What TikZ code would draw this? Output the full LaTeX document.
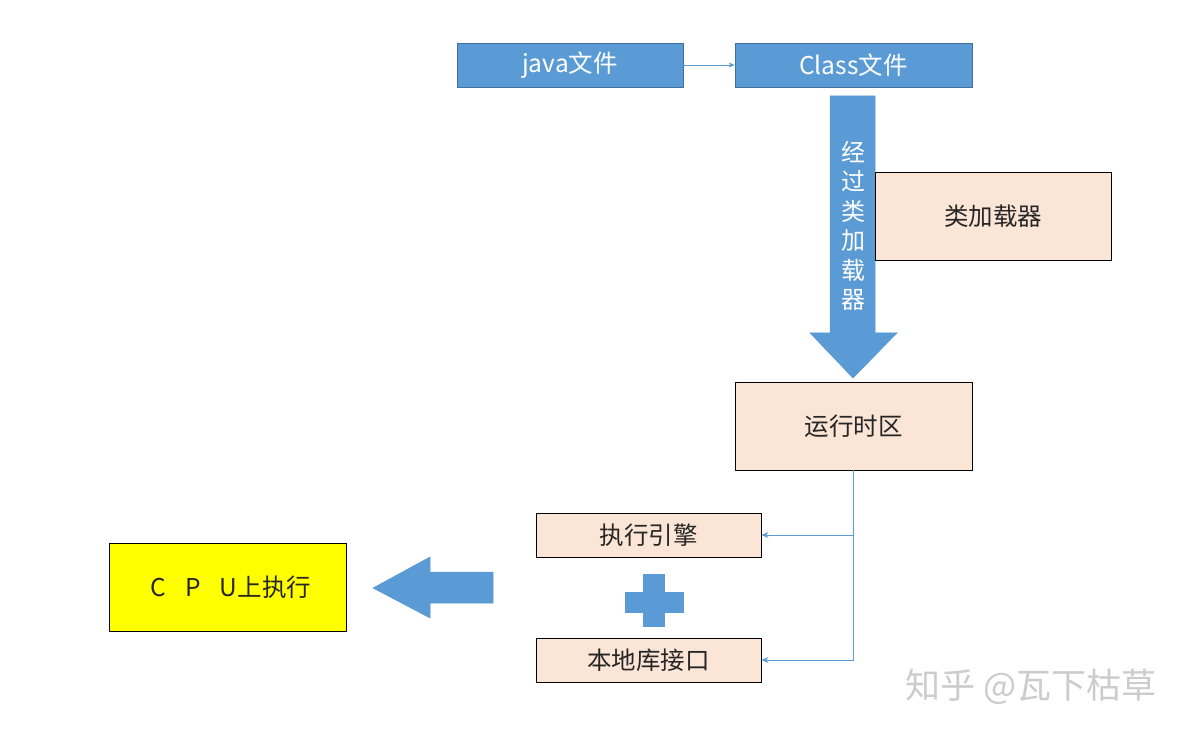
\documentclass[tikz,border=0pt]{standalone}
\usepackage{fontspec}
\newfontfamily\cjk{Noto Sans CJK SC}
\usetikzlibrary{arrows.meta}
\definecolor{bblue}{HTML}{5B9BD5}
\definecolor{bedge}{HTML}{41719C}
\definecolor{peach}{HTML}{FBE5D6}
\definecolor{cyellow}{HTML}{FFFF00}
\begin{document}
\begin{tikzpicture}[x=1pt,y=-1pt,
  txt/.style={font=\cjk\fontsize{24.5}{29}\selectfont},
  bluebox/.style={txt,draw=bedge,fill=bblue,text=white,line width=0.8pt,inner sep=0pt},
  peachbox/.style={txt,draw=black,fill=peach,text=black!85,line width=0.9pt,inner sep=0pt},
  flow/.style={draw=bblue,line width=0.9pt,-{Stealth[length=7pt,width=6pt]}},
  bigshape/.style={fill=bblue,draw=bblue,line width=0.5pt}]
\useasboundingbox (0,0) rectangle (1189,735);
\fill[white] (0,0) rectangle (1189,735);

% top boxes
\node[bluebox,minimum width=226pt,minimum height=44pt] (java) at (570,65) {java文件};
\node[bluebox,minimum width=237pt,minimum height=44pt] (class) at (853.5,65) {Class文件};
\draw[flow,line width=0.7pt,-{Stealth[length=6pt,width=5pt]}] (java) -- (class);

% big down arrow
\path[bigshape] (830,96) -- (875,96) -- (875,333) -- (897,333) -- (853,378) -- (810,333) -- (830,333) -- cycle;
\node[txt,text=white,align=center,font=\cjk\fontsize{24}{29.5}\selectfont] (via) at (853,226)
  {经\\过\\类\\加\\载\\器};

% class loader box
\node[peachbox,minimum width=236pt,minimum height=88pt] (loader) at (993,216) {类加载器};

% runtime area
\node[peachbox,minimum width=237pt,minimum height=88pt] (run) at (853.5,426) {运行时区};

% execution engine / native interface
\node[peachbox,minimum width=225pt,minimum height=44pt] (exec) at (648.5,535) {执行引擎};
\node[peachbox,minimum width=225pt,minimum height=44pt] (native) at (648.5,660) {本地库接口};

\draw[flow] (run.south) |- (exec.east);
\draw[flow] (run.south) |- (native.east);

% plus sign
\fill[bblue] (643,574) rectangle (665,627);
\fill[bblue] (625,592) rectangle (684,613);

% left arrow
\path[bigshape] (493,572) -- (430,572) -- (430,557) -- (373,588) -- (430,618) -- (430,603) -- (493,603) -- cycle;

% CPU box
\node[peachbox,fill=cyellow,minimum width=237pt,minimum height=88pt] (cpu) at (227.5,587) {};
\node[txt,text=black!85] (cputxt) at (231,587) {C\hspace{19pt}P\hspace{19pt}U上执行};

% watermark
\node[font=\cjk\fontsize{35}{40}\selectfont,text=gray!40] (wm) at (1031,687) {知乎 @瓦下枯草};
\end{tikzpicture}
\end{document}
